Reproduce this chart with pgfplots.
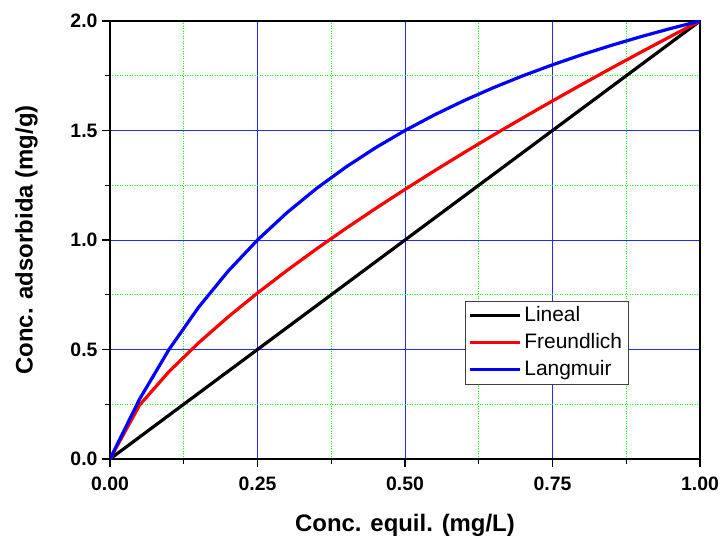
\documentclass[border=0pt]{standalone}
\usepackage{fontspec}
\setmainfont{Liberation Sans}
\usepackage{pgfplots}
\pgfplotsset{compat=1.18}
\begin{document}
\begin{tikzpicture}
\begin{axis}[
 scale only axis, width=590bp, height=438bp,
 xmin=0,xmax=1,ymin=0,ymax=2,
 xtick={0,0.25,0.5,0.75,1}, ytick={0,0.5,1,1.5,2},
 minor x tick num=1, minor y tick num=1,
 xticklabels={0.00,0.25,0.50,0.75,1.00}, yticklabels={0.0,0.5,1.0,1.5,2.0},
 tick align=outside, tick pos=left,
 major tick length=8bp, minor tick length=5bp,
 every tick/.style={black, line width=1.4bp},
 axis line style={line width=1.8bp},
 grid=both,
 major grid style={blue!85, line width=0.8bp},
 minor grid style={green, dash pattern=on 1bp off 1.5bp, line width=0.8bp},
 ticklabel style={font=\fontsize{19.5}{22}\selectfont\bfseries},
 xticklabel style={yshift=-6bp},
 yticklabel style={xshift=-1bp},
 label style={font=\fontsize{24}{28}\selectfont\bfseries},
 xlabel={Conc. equil. (mg/L)}, ylabel={Conc. adsorbida (mg/g)},
 xlabel style={at={(axis description cs:0.5,-0.1644)}, anchor=base},
 ylabel style={at={(axis description cs:-0.131,0.5)}, anchor=base},
 legend style={at={(rel axis cs:0.6017,0.3614)}, anchor=north west, draw=black!75, line width=0.8bp,
   font=\fontsize{21}{24}\selectfont, inner xsep=3bp, inner ysep=1bp,
   nodes={inner ysep=3bp, inner xsep=3bp, text height=16bp, text depth=5bp},
   cells={anchor=west}},
 legend image code/.code={\draw[#1, line width=3bp] (0bp,0bp) -- (50bp,0bp);},
 legend cell align=left,
]
\addplot[black, line width=3.2bp] coordinates {(0,0) (1,2)};
\addlegendentry{Lineal}
\addplot[red, line width=3.2bp] coordinates {
(0,0) (0.05,0.2457) (0.10,0.3991) (0.15,0.5300) (0.20,0.6482) (0.25,0.7579)
(0.30,0.8610) (0.35,0.9592) (0.40,1.0532) (0.45,1.1436) (0.50,1.2311)
(0.55,1.3161) (0.60,1.3988) (0.65,1.4793) (0.70,1.5580) (0.75,1.6351)
(0.80,1.7107) (0.85,1.7850) (0.90,1.8578) (0.95,1.9295) (1.00,2.0)};
\addlegendentry{Freundlich}
\addplot[blue, line width=3.2bp] coordinates {
(0,0) (0.05,0.2727) (0.10,0.5) (0.15,0.6923) (0.20,0.8571) (0.25,1.0)
(0.30,1.125) (0.35,1.2353) (0.40,1.3333) (0.45,1.4211) (0.50,1.5)
(0.55,1.5714) (0.60,1.6364) (0.65,1.6957) (0.70,1.75) (0.75,1.8)
(0.80,1.8462) (0.85,1.8889) (0.90,1.9286) (0.95,1.9655) (1.00,2.0)};
\addlegendentry{Langmuir}
\coordinate (sw) at (rel axis cs:0,0);
\coordinate (ne) at (rel axis cs:1,1);
\end{axis}
\pgfresetboundingbox
\path ([shift={(-110bp,-80bp)}]sw) rectangle ([shift={(24bp,21bp)}]ne);
\end{tikzpicture}
\end{document}
